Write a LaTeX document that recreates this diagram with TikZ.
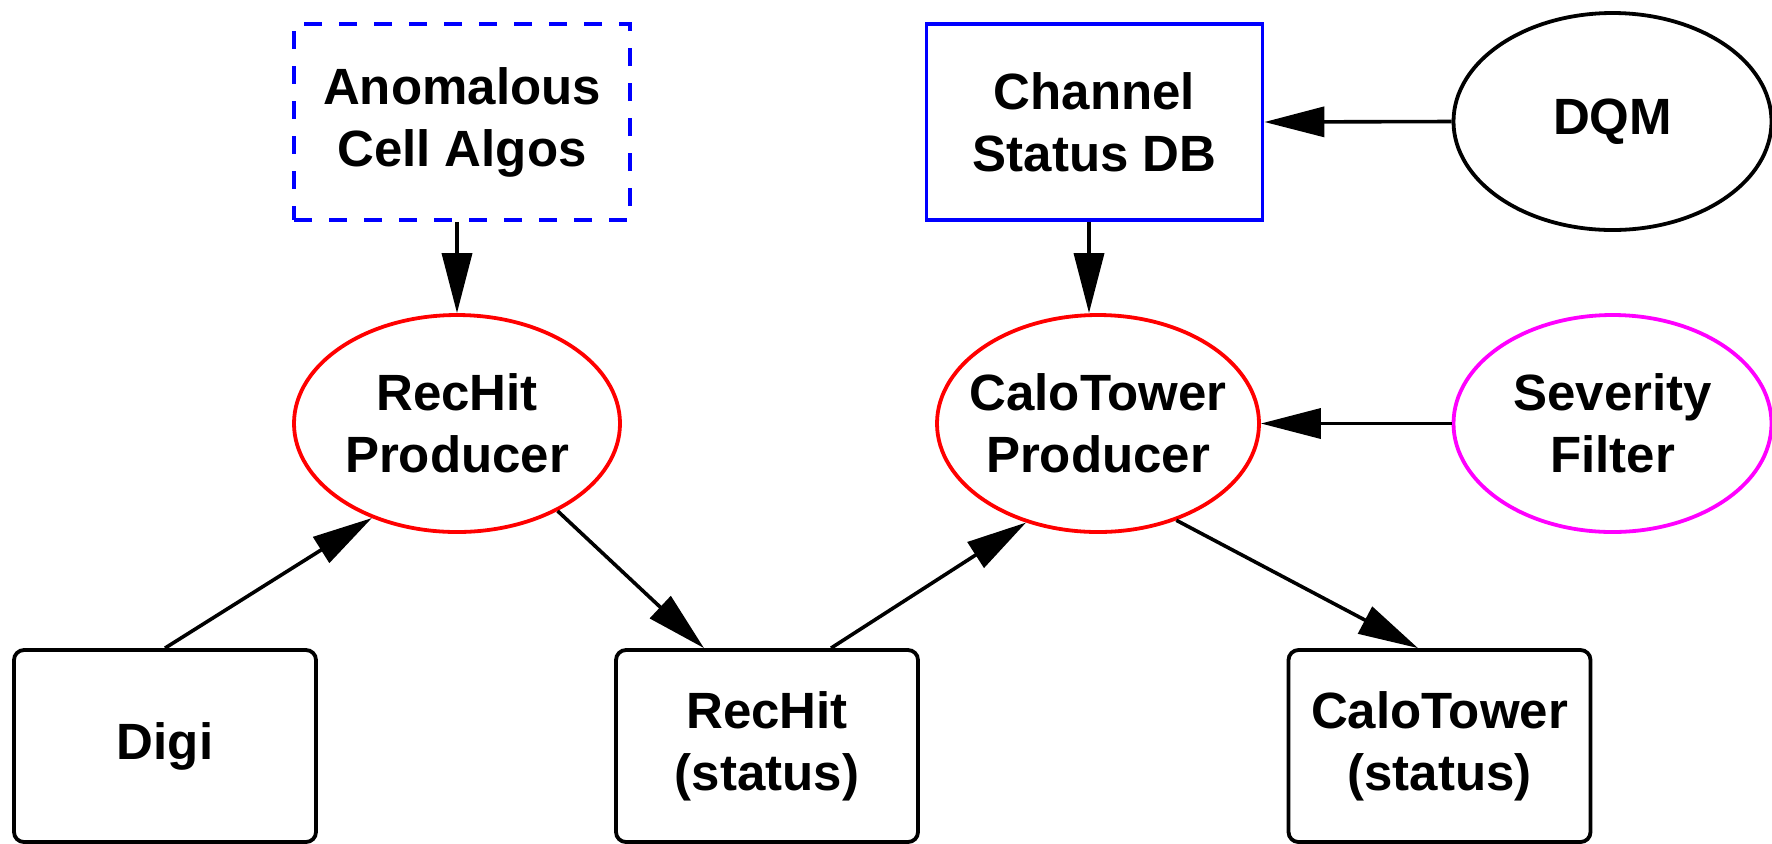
\documentclass[tikz,border=0pt]{standalone}
\usepackage{fontspec}
\setmainfont{Liberation Sans}
\usetikzlibrary{shapes.geometric,arrows.meta}
\definecolor{pblue}{RGB}{0,0,255}
\definecolor{pred}{RGB}{255,0,0}
\definecolor{pmag}{RGB}{255,0,255}
\begin{document}
\begin{tikzpicture}[x=0.5pt,y=-0.5pt,
  every node/.style={font=\fontsize{25.5}{31}\selectfont\bfseries, align=center, line width=1.9pt},
  ell/.style={draw, ellipse, inner xsep=-25pt, inner ysep=0pt, minimum width=160pt, minimum height=108.5pt},
  sqbox/.style={draw=pblue, rectangle, minimum width=168pt, minimum height=98pt, inner sep=0pt},
  rbox/.style={draw, rectangle, rounded corners=5pt, minimum width=151pt, minimum height=96pt, inner sep=0pt},
  arr/.style={line width=1.8pt, -{Triangle[length=30pt,width=15pt]}}]
\useasboundingbox (0,0) rectangle (1772,843);
\node[sqbox, dash pattern=on 9pt off 8.5pt] (anom) at (462,122) {Anomalous\\Cell Algos};
\node[sqbox] (chan) at (1094.5,122) {Channel\\Status DB};
\node[ell, minimum width=159pt] (dqm) at (1612.5,121.5) {DQM};
\node[ell, draw=pred, minimum width=163pt] (rhp) at (457,423.5) {RecHit\\Producer};
\node[ell, draw=pred, minimum width=161pt] (ctp) at (1098,423.5) {CaloTower\\Producer};
\node[ell, draw=pmag, minimum width=159pt] (sev) at (1612.5,423.5) {Severity\\Filter};
\node[rbox] (digi) at (165,746) {Digi};
\node[rbox] (rhs) at (767,746) {RecHit\\(status)};
\node[rbox] (cts) at (1439.5,746) {CaloTower\\(status)};
\draw[arr] (anom.south -| rhp.north) -- (rhp.north);
\draw[arr] ([xshift=-4.5pt]ctp.north |- chan.south) -- ([xshift=-4.5pt]ctp.north);
\draw[arr] (dqm.west) -- (chan.east);
\draw[arr] (sev.west) -- (ctp.east);
\draw[arr] (digi.north) -- (rhp.228);
\draw[arr] (rhp.319) -- ([xshift=-31.5pt]rhs.north);
\draw[arr] ([xshift=32pt]rhs.north) -- (ctp.234);
\draw[arr] (ctp.309) -- ([xshift=-10.75pt]cts.north);
\end{tikzpicture}
\end{document}
